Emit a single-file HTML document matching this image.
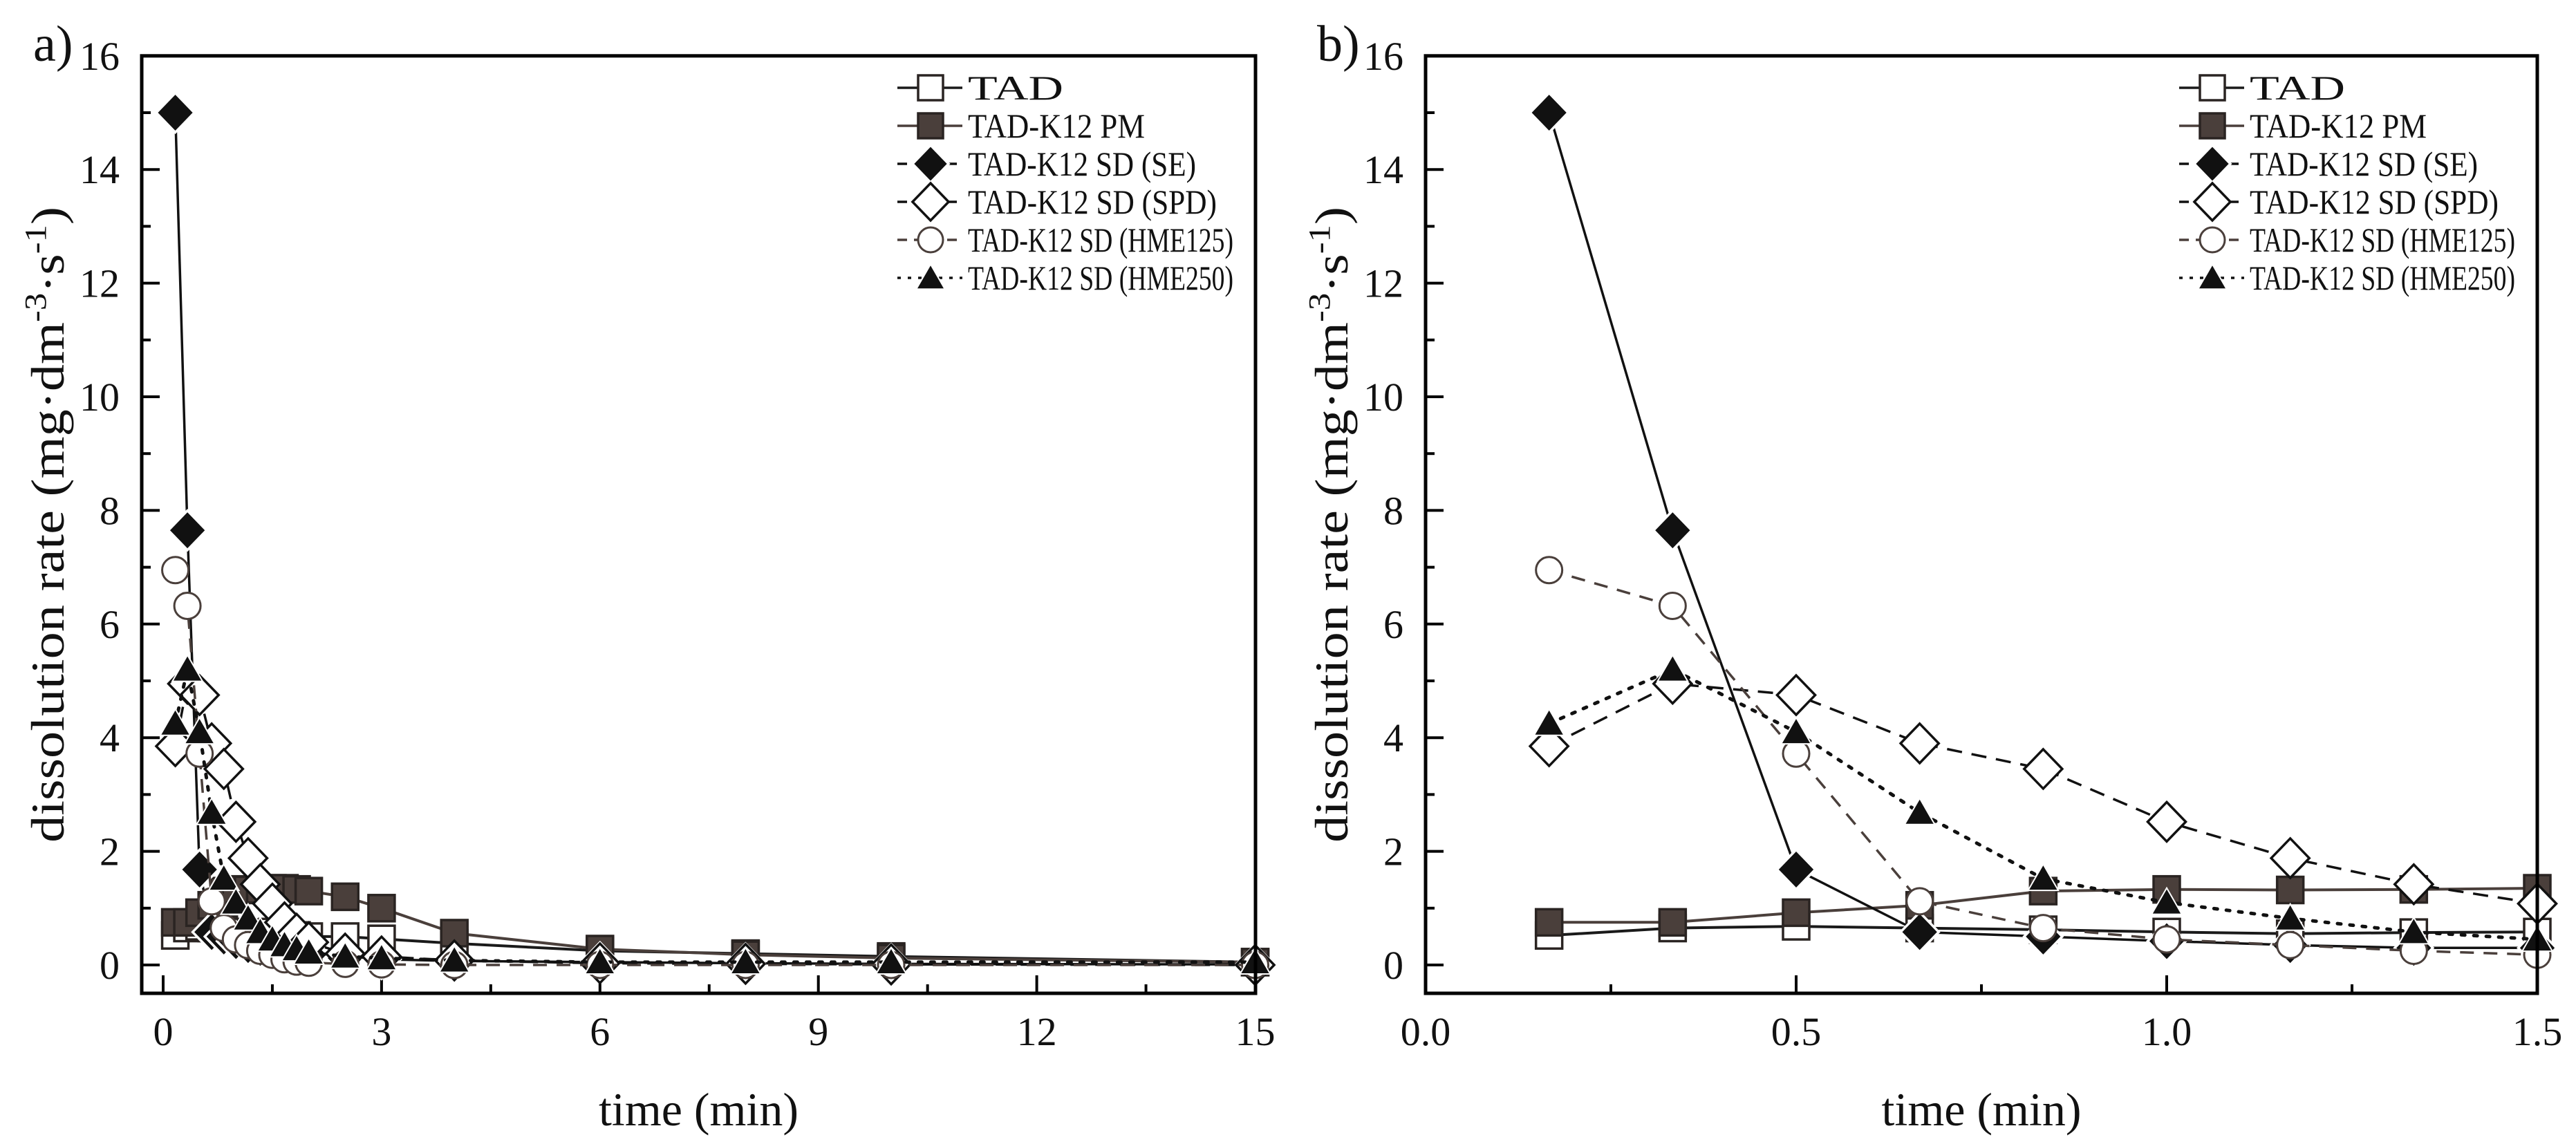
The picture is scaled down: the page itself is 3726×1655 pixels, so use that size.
<!DOCTYPE html>
<html><head><meta charset="utf-8">
<style>
html,body{margin:0;padding:0;background:#fff;}
svg{display:block;font-family:"Liberation Serif","Times New Roman",serif;}
</style></head>
<body>
<svg id="chart" width="3726" height="1655" viewBox="0 0 3726 1655" xmlns="http://www.w3.org/2000/svg"></svg>
<script>
// ---- data (time in min, dissolution rate mg·dm-3·s-1) ----
const timesFull = [1/6, 1/3, 0.5, 2/3, 5/6, 1, 7/6, 4/3, 1.5, 5/3, 11/6, 2, 2.5, 3, 4, 6, 8, 10, 15];
const seriesNames = ["TAD", "TAD-K12 PM", "TAD-K12 SD (SE)", "TAD-K12 SD (SPD)", "TAD-K12 SD (HME125)", "TAD-K12 SD (HME250)"];
const tadValues    = [0.52, 0.65, 0.68, 0.65, 0.62, 0.58, 0.55, 0.57, 0.58, 0.55, 0.52, 0.5, 0.5, 0.46, 0.38, 0.25, 0.2, 0.15, 0.05];
const pmValues     = [0.75, 0.75, 0.92, 1.05, 1.3, 1.33, 1.32, 1.33, 1.35, 1.35, 1.33, 1.3, 1.2, 1.0, 0.56, 0.28, 0.18, 0.12, 0.05];
const seValues     = [15.0, 7.65, 1.68, 0.58, 0.5, 0.42, 0.35, 0.3, 0.3, 0.25, 0.2, 0.18, 0.12, 0.1, 0.07, 0.05, 0.03, 0.02, 0.01];
const spdValues    = [3.85, 4.95, 4.75, 3.9, 3.45, 2.52, 1.88, 1.42, 1.08, 0.75, 0.55, 0.4, 0.2, 0.15, 0.08, 0.03, 0.02, 0.01, 0.0];
const hme125Values = [6.95, 6.32, 3.72, 1.12, 0.65, 0.45, 0.35, 0.25, 0.18, 0.1, 0.06, 0.04, 0.02, 0.01, 0.0, 0.0, 0.0, 0.0, 0.0];
const hme250Values = [4.25, 5.2, 4.1, 2.68, 1.52, 1.1, 0.82, 0.58, 0.45, 0.35, 0.28, 0.22, 0.15, 0.12, 0.08, 0.05, 0.05, 0.05, 0.05];
const yTicks = [0, 2, 4, 6, 8, 10, 12, 14, 16];
const xTicksA = [0, 3, 6, 9, 12, 15];
const xTickLabelsA = ["0", "3", "6", "9", "12", "15"];
const xTicksB = [0, 0.5, 1.0, 1.5];
const xTickLabelsB = ["0.0", "0.5", "1.0", "1.5"];

const NS = "http://www.w3.org/2000/svg";
const svg = document.getElementById("chart");
function mk(tag, attrs, parent){ const e=document.createElementNS(NS,tag); for(const k in attrs) e.setAttribute(k,attrs[k]); (parent||svg).appendChild(e); return e; }

const styles = [
  {marker:"square", fill:"#fff", stroke:"#2a2422", line:"#1a1a1a", dash:"", lw:4},
  {marker:"square", fill:"#4a3f3b", stroke:"#2a2422", line:"#4a3f3b", dash:"", lw:4},
  {marker:"diamond", fill:"#111", stroke:"#111", line:"#111", dash:"", lw:3.5, legendDash:"14 10"},
  {marker:"diamond", fill:"#fff", stroke:"#111", line:"#111", dash:"22 14", lw:3.5},
  {marker:"circle", fill:"#fff", stroke:"#4a3f3b", line:"#4a3f3b", dash:"20 14", lw:3.5},
  {marker:"triangle", fill:"#111", stroke:"#fff", line:"#111", dash:"5 13", lw:5}
];
const allValues = [tadValues, pmValues, seValues, spdValues, hme125Values, hme250Values];
const seriesKeys = ["tad","pm","se","spd","hme125","hme250"];

function drawMarker(g, type, cx, cy, st, r){
  r = r || 19;
  let e;
  if(type==="square") e = mk("rect",{x:cx-r,y:cy-r,width:2*r,height:2*r,fill:st.fill,stroke:st.stroke,"stroke-width":3.5},g);
  else if(type==="diamond") e = mk("polygon",{points:`${cx},${cy-r*1.5} ${cx+r*1.45},${cy} ${cx},${cy+r*1.5} ${cx-r*1.45},${cy}`,fill:st.fill,stroke:st.fill==="#fff"?"#111":"#fff","stroke-width":3.5},g);
  else if(type==="circle") e = mk("circle",{cx:cx,cy:cy,r:r,fill:st.fill,stroke:st.stroke,"stroke-width":3},g);
  else e = mk("polygon",{points:`${cx},${cy-r*1.1} ${cx+r*1.15},${cy+r*0.9} ${cx-r*1.15},${cy+r*0.9}`,fill:st.fill,stroke:"#fff","stroke-width":2},g);
  return e;
}

function panel(cfg){
  const g = mk("g",{});
  
  
  const X = v => cfg.x0 + v*cfg.xs;
  const Y = v => cfg.y0 - v*cfg.ys;
  const top = Y(16), bot = cfg.bottom, left = cfg.left, right = cfg.right;
  for(let v=0; v<=16; v+=1){
    const t = mk("line",{x1:left,x2:left+(v%2===0?26:13),y1:Y(v),y2:Y(v),stroke:"#000","stroke-width":4},g);
    
    
  }
  yTicks.forEach(v=>{
    const t = mk("text",{x:left-32,y:Y(v)+20,"text-anchor":"end","font-size":58,fill:"#111"},g);
    t.textContent = String(v);
    
    
  });
  cfg.minor.forEach(v=>{
    const t = mk("line",{x1:X(v),x2:X(v),y1:bot,y2:bot-(cfg.majors.includes(v)?26:13),stroke:"#000","stroke-width":4},g);
    
    
  });
  cfg.majors.forEach((v,i)=>{
    const t = mk("text",{x:X(v),y:1512,"text-anchor":"middle","font-size":58,fill:"#111"},g);
    t.textContent = cfg.majorLabels[i];
    
    
  });
  const xs = timesFull.filter(t=>t<=cfg.xmax+1e-9);
  allValues.forEach((vals,si)=>{
    const st = styles[si];
    const sg = mk("g",{},g);
    
    
    const pts = xs.map((t,i)=>X(t).toFixed(1)+","+Y(vals[i]).toFixed(1)).join(" ");
    const pl = mk("polyline",{points:pts,fill:"none",stroke:st.line,"stroke-width":st.lw,"stroke-dasharray":st.dash,"stroke-linecap":st.marker==="triangle"?"round":"butt"},sg);
    
    
    xs.forEach((t,i)=>{
      const m = drawMarker(sg, st.marker, X(t), Y(vals[i]), st);
      
      
    });
  });
  const fr = mk("rect",{x:left,y:top,width:right-left,height:bot-top,fill:"none",stroke:"#000","stroke-width":5},g);
  
  
  const lg = mk("g",{},g);
  
  
  seriesNames.forEach((n,i)=>{
    const st = styles[i];
    const yy = 127 + i*55;
    const eg = mk("g",{},lg);
    
    
    mk("line",{x1:cfg.legX-48,x2:cfg.legX+46,y1:yy,y2:yy,stroke:st.line,"stroke-width":3.5,"stroke-dasharray":st.legendDash||(st.dash?(st.marker==="triangle"?"5 10":"14 10"):"")},eg);
    drawMarker(eg, st.marker, cfg.legX, yy, st, 18);
    const tx = mk("text",{x:cfg.legX+54,y:yy+17,"font-size":50,fill:"#111",textLength:[138,256,330,360,384,384][i],lengthAdjust:"spacingAndGlyphs"},eg);
    tx.textContent = n;
  });
  const yt = mk("text",{transform:`translate(${cfg.ytx},${(top+bot)/2}) rotate(-90)`,"text-anchor":"middle","font-size":68,fill:"#111",textLength:920,lengthAdjust:"spacingAndGlyphs"},g);
  
  
  yt.innerHTML = 'dissolution rate (mg·dm<tspan dy="-26" font-size="44">-3</tspan><tspan dy="26">·s</tspan><tspan dy="-26" font-size="44">-1</tspan><tspan dy="26">)</tspan>';
  const xt = mk("text",{x:(left+right)/2,y:1628,"text-anchor":"middle","font-size":68,fill:"#111"},g);
  xt.textContent = "time (min)";
  
  
  const pl = mk("text",{x:cfg.plx,y:88,"font-size":74,fill:"#111"},g);
  pl.textContent = cfg.label;
  
  
}

panel({name:"panel-a", x0:236, xs:105.3, y0:1396, ys:82.2, left:205, right:1816, bottom:1437, xmax:15,
  minor:[0,1.5,3,4.5,6,7.5,9,10.5,12,13.5,15], majors:xTicksA, majorLabels:xTickLabelsA, legX:1346, ytx:92, plx:48, label:"a)"});
panel({name:"panel-b", x0:2062, xs:1072, y0:1396, ys:82.2, left:2062, right:3670, bottom:1437, xmax:1.5,
  minor:[0,0.25,0.5,0.75,1.0,1.25,1.5], majors:xTicksB, majorLabels:xTickLabelsB, legX:3200, ytx:1949, plx:1905, label:"b)"});
</script>
</body></html>
